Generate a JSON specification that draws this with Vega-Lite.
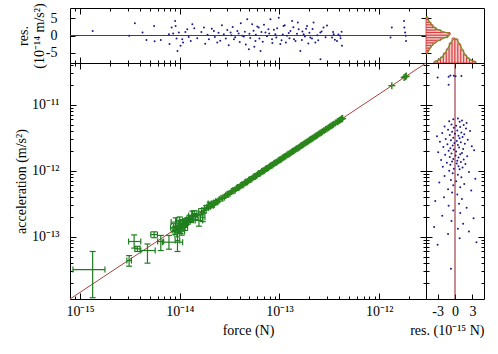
{
 "$schema": "https://vega.github.io/schema/vega-lite/v6.json",
 "padding": {"left": 13, "top": 2, "right": 5, "bottom": 5},
 "background": "white",
 "config": {
  "font": "Liberation Serif",
  "view": {"stroke": "#000000", "strokeWidth": 1},
  "axis": {"grid": false, "domain": false, "tickColor": "#000000", "tickWidth": 1, "labelColor": "#000000", "titleColor": "#000000", "labelFont": "Liberation Serif", "titleFont": "Liberation Serif", "labelFontSize": 14, "titleFontSize": 14, "titleFontWeight": "normal", "labelOverlap": false, "labelFlush": false, "labelBound": false}
 },
 "datasets": {
  "fit": [{"F": 0.794, "a": 1.147}, {"F": 2950, "a": 4263}],
  "zeroA": [{"r": 0, "Flo": 0.794, "Fhi": 2950}],
  "zeroF": [{"r": 0, "lo": 1.147, "hi": 4263}],
  "err": [
   {"F":1.34,"Flo":0.85,"Fhi":1.78,"a":3.2,"alo":1.2,"ahi":6.0},
   {"F":3.11,"Flo":2.95,"Fhi":3.28,"a":4.37,"alo":3.6,"ahi":5.2},
   {"F":3.49,"Flo":3.07,"Fhi":4.07,"a":8.5,"alo":6.75,"ahi":10.7},
   {"F":3.77,"Flo":3.55,"Fhi":4.0,"a":6.6,"alo":6.0,"ahi":7.2},
   {"F":4.75,"Flo":4.07,"Fhi":5.68,"a":6.2,"alo":4.0,"ahi":7.8},
   {"F":5.54,"Flo":5.13,"Fhi":5.98,"a":10.8,"alo":9.7,"ahi":11.9},
   {"F":6.46,"Flo":6.0,"Fhi":6.9,"a":8.5,"alo":6.2,"ahi":10.5},
   {"F":7.8,"Flo":6.7,"Fhi":10.7,"a":8.3,"alo":6.5,"ahi":10.5},
   {"F":9.5,"Flo":9.0,"Fhi":10.0,"a":8.8,"alo":6.0,"ahi":14.1},
   {"F":9.1,"Flo":8.2,"Fhi":10.1,"a":16.7,"alo":14.2,"ahi":19.4},
   {"F":9.0,"Flo":8.4,"Fhi":9.7,"a":12.5,"alo":10.8,"ahi":14.5},
   {"F":9.8,"Flo":9.1,"Fhi":10.6,"a":15.0,"alo":13.0,"ahi":17.5},
   {"F":10.2,"Flo":9.5,"Fhi":11.0,"a":13.2,"alo":11.3,"ahi":15.3},
   {"F":10.7,"Flo":10.0,"Fhi":11.5,"a":16.0,"alo":14.0,"ahi":18.2},
   {"F":11.3,"Flo":10.6,"Fhi":12.0,"a":14.2,"alo":12.5,"ahi":16.0},
   {"F":12.0,"Flo":11.2,"Fhi":12.8,"a":17.5,"alo":15.5,"ahi":19.6},
   {"F":12.6,"Flo":11.8,"Fhi":13.4,"a":19.0,"alo":17.0,"ahi":21.2},
   {"F":13.4,"Flo":12.3,"Fhi":14.6,"a":21.0,"alo":18.0,"ahi":24.5},
   {"F":14.3,"Flo":13.5,"Fhi":15.2,"a":20.0,"alo":18.2,"ahi":22.0},
   {"F":15.6,"Flo":14.3,"Fhi":17.0,"a":17.7,"alo":14.5,"ahi":21.5},
   {"F":16.5,"Flo":15.5,"Fhi":17.6,"a":24.0,"alo":21.5,"ahi":26.8},
   {"F":17.5,"Flo":16.6,"Fhi":18.4,"a":25.0,"alo":23.0,"ahi":27.2},
   {"F":18.5,"Flo":17.7,"Fhi":19.4,"a":27.5,"alo":25.5,"ahi":29.7},
   {"F":19.5,"Flo":18.8,"Fhi":20.3,"a":28.5,"alo":26.8,"ahi":30.3},
   {"F":20.5,"Flo":19.8,"Fhi":21.2,"a":30.5,"alo":29.0,"ahi":32.0},
   {"F":21.5,"Flo":20.8,"Fhi":22.2,"a":31.5,"alo":30.0,"ahi":33.0},
   {"F":22.5,"Flo":21.8,"Fhi":23.2,"a":33.0,"alo":31.6,"ahi":34.5},
   {"F":8.7,"Flo":8.1,"Fhi":9.3,"a":13.8,"alo":12.0,"ahi":15.8},
   {"F":9.4,"Flo":8.8,"Fhi":10.0,"a":11.5,"alo":10.0,"ahi":13.2},
   {"F":10.0,"Flo":9.3,"Fhi":10.7,"a":17.8,"alo":15.8,"ahi":20.0},
   {"F":10.5,"Flo":9.8,"Fhi":11.2,"a":12.2,"alo":10.6,"ahi":14.0},
   {"F":11.0,"Flo":10.3,"Fhi":11.7,"a":15.6,"alo":13.8,"ahi":17.6},
   {"F":11.6,"Flo":10.9,"Fhi":12.3,"a":16.8,"alo":15.0,"ahi":18.8},
   {"F":13.0,"Flo":12.2,"Fhi":13.8,"a":18.2,"alo":16.4,"ahi":20.2},
   {"F":14.0,"Flo":13.2,"Fhi":14.9,"a":22.5,"alo":20.4,"ahi":24.8},
   {"F":17.0,"Flo":16.2,"Fhi":17.9,"a":19.8,"alo":17.0,"ahi":22.8},
   {"F":20.0,"Flo":19.3,"Fhi":20.7,"a":31.8,"alo":30.3,"ahi":33.3},
   {"F":21.0,"Flo":20.3,"Fhi":21.7,"a":29.5,"alo":28.0,"ahi":31.0},
   {"F":23.5,"Flo":22.8,"Fhi":24.2,"a":34.0,"alo":32.6,"ahi":35.4}
  ],
  "pts": [
   {"F":20,"a":29.5},{"F":21.5,"a":30.5},{"F":23,"a":34.0},{"F":24,"a":33.9},{"F":26,"a":38.5},{"F":28,"a":39.8},{"F":30,"a":44.2},{"F":32,"a":45.5},{"F":34,"a":50.0},{"F":36,"a":51.2},{"F":38,"a":55.8},{"F":40,"a":57.0},{"F":42,"a":61.5},{"F":44,"a":62.8},{"F":46,"a":67.3},{"F":48,"a":68.6},{"F":50,"a":73.0},{"F":53,"a":75.8},{"F":56,"a":81.8},{"F":59,"a":84.5},{"F":62,"a":90.5},{"F":65,"a":93.0},{"F":68,"a":99.2},{"F":71,"a":101.8},{"F":74,"a":107.8},{"F":78,"a":111.9},{"F":82,"a":119.4},{"F":86,"a":123.4},{"F":90,"a":131.0},{"F":95,"a":136.4},{"F":100,"a":145.5},{"F":105,"a":150.8},{"F":110,"a":160.0},{"F":116,"a":166.7},{"F":122,"a":177.3},{"F":128,"a":184.0},{"F":135,"a":196.0},{"F":142,"a":204.2},{"F":150,"a":217.8},{"F":158,"a":227.3},{"F":166,"a":241.0},{"F":175,"a":251.8},{"F":185,"a":268.5},{"F":195,"a":280.6},{"F":205,"a":297.5},{"F":216,"a":311.0},{"F":228,"a":330.8},{"F":240,"a":345.6},{"F":255,"a":369.8},{"F":270,"a":389.0},{"F":290,"a":420.5},{"F":310,"a":446.6},{"F":330,"a":478.3},{"F":350,"a":504.5},{"F":380,"a":550.5},{"F":400,"a":576.6},{"F":420,"a":608.3},{"F":430,"a":620.0},{"F":1340,"a":1936},{"F":1780,"a":2572},{"F":1830,"a":2644},{"F":1870,"a":2702},
   {"F":21,"a":31.0},{"F":22,"a":31.2},{"F":25,"a":36.8},{"F":27,"a":38.3},{"F":29,"a":42.6},{"F":31,"a":44.0},{"F":33,"a":48.5},{"F":35,"a":49.8},{"F":37,"a":54.3},{"F":39,"a":55.6},{"F":41,"a":60.0},{"F":43,"a":61.4},{"F":45,"a":65.9},{"F":47,"a":67.1},{"F":49,"a":71.6},{"F":51.5,"a":73.6},{"F":54.5,"a":79.6},{"F":57.5,"a":82.3},{"F":60.5,"a":88.3},{"F":63.5,"a":90.9},{"F":66.5,"a":97.0},{"F":69.5,"a":99.6},{"F":72.5,"a":105.6},{"F":76,"a":109.0},{"F":80,"a":116.5},{"F":84,"a":120.6},{"F":88,"a":128.1},{"F":92.5,"a":132.8},{"F":97.5,"a":141.8},{"F":102.5,"a":147.2},{"F":107.5,"a":156.2},{"F":113,"a":162.4},{"F":119,"a":172.9},{"F":125,"a":179.7},{"F":131.5,"a":190.9},{"F":138.5,"a":199.2},{"F":146,"a":211.9},{"F":154,"a":221.6},{"F":162,"a":235.0},{"F":170.5,"a":245.5},{"F":180,"a":261.0},{"F":190,"a":273.7},{"F":200,"a":289.9},{"F":210.5,"a":303.3},{"F":222,"a":321.7},{"F":234,"a":337.2},{"F":247.5,"a":358.5},{"F":262.5,"a":378.4},{"F":280,"a":405.5},{"F":300,"a":432.6},{"F":320,"a":463.3},{"F":340,"a":490.4},{"F":365,"a":528.3},{"F":390,"a":562.7},{"F":410,"a":593.4},{"F":425,"a":613.2}
  ],
  "resA": [
   {"F":1.34,"r":1.3},{"F":3.11,"r":-0.1},{"F":3.55,"r":3.6},{"F":4.24,"r":0.9},{"F":4.64,"r":-1.3},{"F":5.54,"r":2.8},{"F":5.6,"r":-1.7},{"F":6.46,"r":-1.3},{"F":7.8,"r":0.4},{"F":7.9,"r":-2.5},{"F":8.3,"r":2.3},{"F":8.6,"r":0.6},{"F":9.0,"r":4.2},{"F":9.1,"r":2.8},{"F":9.3,"r":-0.9},{"F":9.5,"r":-4.5},{"F":9.8,"r":0.9},{"F":10.2,"r":-3.0},{"F":10.6,"r":-1.1},{"F":10.8,"r":-2.0},{"F":11.4,"r":1.0},{"F":11.9,"r":1.8},{"F":12.3,"r":-0.4},{"F":12.9,"r":-1.6},{"F":13.4,"r":3.3},{"F":14.0,"r":2.1},{"F":15,"r":-0.8},{"F":16.5,"r":1.0},{"F":17.5,"r":2.3},{"F":18,"r":-2.4},{"F":19,"r":0.2},{"F":19.6,"r":-1.1},{"F":21,"r":2.0},{"F":22,"r":1.3},{"F":22.5,"r":-0.4},{"F":23.8,"r":-2.0},{"F":24.5,"r":0.8},{"F":25.5,"r":-1.5},{"F":26.5,"r":3.0},{"F":27.7,"r":0.4},{"F":29,"r":-0.9},{"F":30,"r":1.6},{"F":31,"r":-2.8},{"F":32.4,"r":0.9},{"F":33,"r":0.1},{"F":34,"r":2.5},{"F":35,"r":-1.1},{"F":36,"r":-0.5},{"F":37.8,"r":1.3},{"F":39,"r":0.6},{"F":40,"r":-1.9},{"F":41,"r":3.6},{"F":42.4,"r":-0.1},{"F":44,"r":-0.3},{"F":45,"r":1.1},{"F":46,"r":-2.6},{"F":47.6,"r":4.7},{"F":49.4,"r":-4.0},{"F":50,"r":0.5},{"F":51,"r":-0.7},{"F":53.3,"r":3.3},{"F":55,"r":1.4},{"F":56,"r":-3.3},{"F":57.5,"r":-1.6},{"F":58,"r":0.2},{"F":60,"r":2.6},{"F":62,"r":2.3},{"F":63,"r":-0.9},{"F":64.6,"r":-4.5},{"F":66,"r":1.0},{"F":68,"r":-1.8},{"F":70,"r":3.1},{"F":72.4,"r":0.9},{"F":75,"r":-0.2},{"F":77.6,"r":1.8},{"F":79,"r":0.6},{"F":81.3,"r":4.7},{"F":84.3,"r":-1.1},{"F":85,"r":-2.2},{"F":88,"r":1.7},{"F":91,"r":0.4},{"F":93,"r":-0.6},{"F":95,"r":2.1},{"F":98.5,"r":5.2},{"F":102,"r":-2.5},{"F":105,"r":-1.4},{"F":108,"r":0.3},{"F":110,"r":2.8},{"F":113,"r":3.0},{"F":116,"r":-2.0},{"F":119,"r":-0.1},{"F":124,"r":0.7},{"F":126,"r":-0.8},{"F":129,"r":1.3},{"F":134,"r":4.2},{"F":138,"r":2.4},{"F":140,"r":-1.1},{"F":145,"r":-1.6},{"F":150,"r":0.5},{"F":153,"r":3.8},{"F":156,"r":1.8},{"F":162,"r":-4.5},{"F":168,"r":-1.3},{"F":170,"r":1.2},{"F":175,"r":0.4},{"F":180,"r":-0.3},{"F":185,"r":2.0},{"F":189,"r":2.8},{"F":195,"r":-2.3},{"F":200,"r":0.8},{"F":204,"r":-0.6},{"F":212,"r":-0.9},{"F":215,"r":1.9},{"F":220,"r":3.8},{"F":229,"r":-2.0},{"F":240,"r":0.1},{"F":245,"r":-1.4},{"F":257,"r":0.9},{"F":258,"r":-6.9},{"F":265,"r":1.2},{"F":277,"r":2.3},{"F":290,"r":-0.5},{"F":300,"r":2.9},{"F":337,"r":-0.6},{"F":345,"r":1.0},{"F":350,"r":0.4},{"F":360,"r":-1.2},{"F":378,"r":-1.6},{"F":390,"r":0.3},{"F":407,"r":-0.1},{"F":410,"r":-0.8},{"F":420,"r":1.1},{"F":424,"r":-3.0},{"F":1300,"r":-0.6},{"F":1340,"r":2.3},{"F":1778,"r":4.2},{"F":1790,"r":2.3},{"F":1820,"r":0.9},{"F":1850,"r":-0.1},{"F":1860,"r":-1.6}
  ],
  "resF": [
   {"a":2570,"r":-3.0},{"a":2630,"r":-1.1},{"a":2750,"r":-0.8},{"a":2740,"r":-0.2},{"a":2690,"r":0.1},{"a":2720,"r":1.1},{"a":2000,"r":-1.1},
   {"a":617,"r":0.5},{"a":603,"r":-0.3},{"a":575,"r":1.2},{"a":562,"r":-1.0},{"a":550,"r":0.8},{"a":525,"r":2.0},{"a":501,"r":-0.6},{"a":490,"r":1.5},{"a":479,"r":0.2},{"a":468,"r":-1.8},{"a":457,"r":0.9},{"a":447,"r":-0.2},{"a":437,"r":1.9},{"a":417,"r":-1.2},{"a":407,"r":0.4},{"a":398,"r":2.6},{"a":389,"r":-0.5},{"a":380,"r":1.1},{"a":372,"r":-2.2},{"a":363,"r":0.0},{"a":355,"r":1.6},{"a":347,"r":-0.9},{"a":339,"r":0.6},{"a":331,"r":-3.1},{"a":324,"r":1.3},{"a":316,"r":-0.3},{"a":309,"r":0.8},{"a":302,"r":-1.6},{"a":295,"r":2.2},{"a":288,"r":-0.7},{"a":282,"r":0.3},{"a":275,"r":-2.6},{"a":269,"r":1.0},{"a":263,"r":-0.1},{"a":257,"r":1.7},{"a":251,"r":-1.3},{"a":245,"r":0.5},{"a":240,"r":-0.4},{"a":234,"r":2.9},{"a":229,"r":-2.0},{"a":224,"r":0.7},{"a":219,"r":-0.8},{"a":214,"r":1.4},{"a":209,"r":-0.2},{"a":204,"r":3.3},{"a":200,"r":-1.1},{"a":195,"r":0.2},{"a":191,"r":-2.9},{"a":186,"r":1.2},{"a":182,"r":-0.6},{"a":178,"r":0.9},{"a":174,"r":-1.7},{"a":170,"r":0.1},{"a":166,"r":2.1},{"a":162,"r":-0.9},{"a":158,"r":0.6},{"a":151,"r":-0.3},{"a":148,"r":1.5},{"a":145,"r":-2.4},{"a":141,"r":0.4},{"a":138,"r":-0.5},{"a":135,"r":1.0},{"a":132,"r":-1.4},{"a":129,"r":0.3},{"a":126,"r":1.8},{"a":123,"r":-0.8},{"a":117,"r":0.6},{"a":115,"r":-2.1},{"a":112,"r":1.3},{"a":107,"r":-0.2},{"a":105,"r":0.8},{"a":100,"r":-1.0},{"a":95.5,"r":2.4},{"a":91.2,"r":-0.4},{"a":87.1,"r":0.5},{"a":83.2,"r":-1.8},{"a":79.4,"r":1.1},{"a":75.9,"r":3.5},{"a":72.4,"r":-0.7},{"a":69.2,"r":0.2},{"a":66.1,"r":-2.7},{"a":63.1,"r":1.6},{"a":60.3,"r":-0.3},{"a":56.2,"r":0.9},{"a":52.5,"r":-1.2},{"a":50.1,"r":2.8},{"a":46.8,"r":-0.5},{"a":43.7,"r":0.4},{"a":39.8,"r":-1.9},{"a":37.2,"r":1.2},{"a":34.7,"r":-3.4},{"a":31.6,"r":0.7},{"a":29.5,"r":-1.1},{"a":27.5,"r":2.0},{"a":25.1,"r":-0.3},{"a":22.9,"r":0.9},{"a":20.9,"r":-2.2},{"a":19.1,"r":3.2},{"a":17.4,"r":-0.6},{"a":15.8,"r":1.4},{"a":14.1,"r":-3.6},{"a":13.2,"r":0.5},{"a":12.0,"r":2.4},{"a":11.0,"r":-1.2},{"a":9.5,"r":0.8},{"a":8.3,"r":3.7},{"a":7.6,"r":-3.0},{"a":3.3,"r":-0.7}
  ],
  "hA": [
   {"lo":-5.125,"hi":-4.375,"n":4},{"lo":-4.375,"hi":-3.625,"n":6},{"lo":-3.625,"hi":-2.875,"n":10},{"lo":-2.875,"hi":-2.125,"n":14},{"lo":-2.125,"hi":-1.375,"n":20},{"lo":-1.375,"hi":-0.625,"n":30},{"lo":-0.625,"hi":0.125,"n":44},{"lo":0.125,"hi":0.875,"n":48},{"lo":0.875,"hi":1.625,"n":30},{"lo":1.625,"hi":2.375,"n":20},{"lo":2.375,"hi":3.125,"n":14},{"lo":3.125,"hi":3.875,"n":10},{"lo":3.875,"hi":4.625,"n":6},{"lo":4.625,"hi":5.375,"n":4}
  ],
  "gA": [
   {"r":-5.5,"n":1},{"r":-4.75,"n":4},{"r":-4.0,"n":7},{"r":-3.25,"n":10},{"r":-2.5,"n":15},{"r":-1.75,"n":22},{"r":-1.0,"n":32},{"r":-0.25,"n":44},{"r":0.5,"n":48},{"r":1.25,"n":32},{"r":2.0,"n":20},{"r":2.75,"n":13},{"r":3.5,"n":9},{"r":4.25,"n":5},{"r":5.0,"n":3},{"r":5.6,"n":1}
  ],
  "hB": [
   {"lo":-3.5,"hi":-3.0,"n":4},{"lo":-3.0,"hi":-2.5,"n":6},{"lo":-2.5,"hi":-2.0,"n":12},{"lo":-2.0,"hi":-1.5,"n":20},{"lo":-1.5,"hi":-1.0,"n":28},{"lo":-1.0,"hi":-0.5,"n":40},{"lo":-0.5,"hi":0.0,"n":50},{"lo":0.0,"hi":0.5,"n":48},{"lo":0.5,"hi":1.0,"n":38},{"lo":1.0,"hi":1.5,"n":26},{"lo":1.5,"hi":2.0,"n":16},{"lo":2.0,"hi":2.5,"n":10},{"lo":2.5,"hi":3.0,"n":6},{"lo":3.0,"hi":3.5,"n":4}
  ],
  "gB": [
   {"r":-3.75,"n":1},{"r":-3.25,"n":4},{"r":-2.75,"n":7},{"r":-2.25,"n":12},{"r":-1.75,"n":19},{"r":-1.25,"n":29},{"r":-0.75,"n":40},{"r":-0.25,"n":48},{"r":0.25,"n":48},{"r":0.75,"n":39},{"r":1.25,"n":27},{"r":1.75,"n":17},{"r":2.25,"n":10},{"r":2.75,"n":6},{"r":3.25,"n":3},{"r":3.75,"n":1}
  ]
 },
 "columns": 2,
 "spacing": 0,
 "bounds": "flush",
 "align": "each",
 "concat": [
  {
   "width": 356, "height": 55,
   "layer": [
    {"data": {"name": "zeroA"}, "mark": {"type": "rule", "color": "#9a1c1c", "strokeWidth": 1},
     "encoding": {
      "x": {"field": "Flo", "type": "quantitative", "scale": {"type": "log", "domain": [0.794, 2950], "nice": false}, "axis": {"orient": "bottom", "values": [0.9,1,2,3,4,5,6,7,8,9,10,20,30,40,50,60,70,80,90,100,200,300,400,500,600,700,800,900,1000,2000], "labels": false, "title": null, "tickSize": {"condition": {"test": "datum.value==1||datum.value==10||datum.value==100||datum.value==1000", "value": -6}, "value": -3}}},
      "x2": {"field": "Fhi"},
      "y": {"field": "r", "type": "quantitative", "scale": {"domain": [-8, 8], "nice": false, "zero": false}, "axis": {"orient": "left", "values": [-5, 0, 5], "tickSize": -5, "labelPadding": 18, "labelExpr": "''+datum.value", "title": ["res.", "(10⁻¹⁴ m/s²)"], "titleX": -47, "titleY": 27.5, "titleAngle": 270, "titleAlign": "center", "titleBaseline": "middle"}}
     }},
    {"data": {"name": "resA"}, "mark": {"type": "circle", "size": 4, "color": "#1c1c8a", "opacity": 1},
     "encoding": {
      "x": {"field": "F", "type": "quantitative", "scale": {"type": "log", "domain": [0.794, 2950], "nice": false}, "axis": {"orient": "top", "values": [0.9,1,2,3,4,5,6,7,8,9,10,20,30,40,50,60,70,80,90,100,200,300,400,500,600,700,800,900,1000,2000], "labels": false, "title": null, "tickSize": {"condition": {"test": "datum.value==1||datum.value==10||datum.value==100||datum.value==1000", "value": -6}, "value": -3}}},
      "y": {"field": "r", "type": "quantitative", "scale": {"domain": [-8, 8], "nice": false, "zero": false}, "axis": {"orient": "right", "values": [-5, 0, 5], "labels": false, "title": null, "tickSize": -5}}
     }}
   ],
   "resolve": {"axis": {"x": "independent", "y": "independent"}}
  },
  {
   "width": 58, "height": 55,
   "layer": [
    {"data": {"name": "hA"}, "mark": {"type": "rect", "fill": "#f7c8c8", "stroke": "#d42a2a", "strokeWidth": 0.8},
     "encoding": {
      "x": {"field": "n", "type": "quantitative", "scale": {"domain": [0, 116], "nice": false, "zero": false}, "axis": null},
      "x2": {"datum": 0},
      "y": {"field": "lo", "type": "quantitative", "scale": {"domain": [-8, 8], "nice": false, "zero": false}, "axis": {"orient": "left", "values": [-5, 0, 5], "labels": false, "title": null, "tickSize": -5}},
      "y2": {"field": "hi"}
     }},
    {"data": {"name": "gA"}, "mark": {"type": "line", "color": "#6f8f1f", "strokeWidth": 1.2},
     "encoding": {
      "x": {"field": "n", "type": "quantitative", "scale": {"domain": [0, 116], "nice": false, "zero": false}, "axis": null},
      "y": {"field": "r", "type": "quantitative", "scale": {"domain": [-8, 8], "nice": false, "zero": false}, "axis": null},
      "order": {"field": "r", "type": "quantitative"}
     }},
    {"data": {"name": "hB"}, "mark": {"type": "rect", "fill": "#f7c8c8", "stroke": "#d42a2a", "strokeWidth": 0.8},
     "encoding": {
      "x": {"field": "lo", "type": "quantitative", "scale": {"domain": [-5, 5], "nice": false, "zero": false}, "axis": {"orient": "bottom", "values": [-3, 0, 3], "labels": false, "title": null, "tickSize": -5}},
      "x2": {"field": "hi"},
      "y": {"field": "n", "type": "quantitative", "scale": {"domain": [0, 110], "nice": false, "zero": false}, "axis": null},
      "y2": {"datum": 0}
     }},
    {"data": {"name": "gB"}, "mark": {"type": "line", "color": "#6f8f1f", "strokeWidth": 1.2},
     "encoding": {
      "x": {"field": "r", "type": "quantitative", "scale": {"domain": [-5, 5], "nice": false, "zero": false}, "axis": null},
      "y": {"field": "n", "type": "quantitative", "scale": {"domain": [0, 110], "nice": false, "zero": false}, "axis": null}
     }}
   ],
   "resolve": {"scale": {"x": "independent", "y": "independent"}, "axis": {"x": "independent", "y": "independent"}}
  },
  {
   "width": 356, "height": 236,
   "layer": [
    {"data": {"name": "fit"}, "mark": {"type": "line", "color": "#a8443c", "strokeWidth": 1},
     "encoding": {
      "x": {"field": "F", "type": "quantitative", "scale": {"type": "log", "domain": [0.794, 2950], "nice": false}, "axis": {"orient": "bottom", "values": [0.9,1,2,3,4,5,6,7,8,9,10,20,30,40,50,60,70,80,90,100,200,300,400,500,600,700,800,900,1000,2000], "labelExpr": "datum.value==1?'10⁻¹⁵':datum.value==10?'10⁻¹⁴':datum.value==100?'10⁻¹³':datum.value==1000?'10⁻¹²':''", "labelPadding": 11, "title": "force (N)", "titleX": 178, "titleY": 31, "titleBaseline": "middle", "titleAlign": "center", "tickSize": {"condition": {"test": "datum.value==1||datum.value==10||datum.value==100||datum.value==1000", "value": -6}, "value": -3}}},
      "y": {"field": "a", "type": "quantitative", "scale": {"type": "log", "domain": [1.147, 4263], "nice": false}, "axis": {"orient": "left", "values": [2,3,4,5,6,7,8,9,10,20,30,40,50,60,70,80,90,100,200,300,400,500,600,700,800,900,1000,2000,3000,4000], "labelExpr": "datum.value==10?'10⁻¹³':datum.value==100?'10⁻¹²':datum.value==1000?'10⁻¹¹':''", "labelPadding": 17, "title": "acceleration (m/s²)", "titleX": -49, "titleY": 118, "titleAngle": 270, "titleAlign": "center", "titleBaseline": "middle", "tickSize": {"condition": {"test": "datum.value==10||datum.value==100||datum.value==1000", "value": -6}, "value": -3}}}
     }},
    {"data": {"name": "err"}, "mark": {"type": "rule", "color": "#1e7e1e", "strokeWidth": 1.2},
     "encoding": {
      "x": {"field": "Flo", "type": "quantitative", "scale": {"type": "log", "domain": [0.794, 2950], "nice": false}, "axis": {"orient": "top", "values": [0.9,1,2,3,4,5,6,7,8,9,10,20,30,40,50,60,70,80,90,100,200,300,400,500,600,700,800,900,1000,2000], "labels": false, "title": null, "tickSize": {"condition": {"test": "datum.value==1||datum.value==10||datum.value==100||datum.value==1000", "value": -6}, "value": -3}}},
      "x2": {"field": "Fhi"},
      "y": {"field": "a", "type": "quantitative", "scale": {"type": "log", "domain": [1.147, 4263], "nice": false}, "axis": {"orient": "right", "values": [2,3,4,5,6,7,8,9,10,20,30,40,50,60,70,80,90,100,200,300,400,500,600,700,800,900,1000,2000,3000,4000], "labels": false, "title": null, "tickSize": {"condition": {"test": "datum.value==10||datum.value==100||datum.value==1000", "value": -6}, "value": -3}}}
     }},
    {"data": {"name": "err"}, "mark": {"type": "rule", "color": "#1e7e1e", "strokeWidth": 1.2},
     "encoding": {
      "x": {"field": "F", "type": "quantitative", "scale": {"type": "log", "domain": [0.794, 2950], "nice": false}, "axis": null},
      "y": {"field": "alo", "type": "quantitative", "scale": {"type": "log", "domain": [1.147, 4263], "nice": false}, "axis": null},
      "y2": {"field": "ahi"}
     }},
    {"data": {"name": "err"}, "mark": {"type": "tick", "orient": "vertical", "size": 6, "thickness": 1.2, "color": "#1e7e1e", "opacity": 1},
     "encoding": {
      "x": {"field": "Flo", "type": "quantitative", "scale": {"type": "log", "domain": [0.794, 2950], "nice": false}, "axis": null},
      "y": {"field": "a", "type": "quantitative", "scale": {"type": "log", "domain": [1.147, 4263], "nice": false}, "axis": null}
     }},
    {"data": {"name": "err"}, "mark": {"type": "tick", "orient": "vertical", "size": 6, "thickness": 1.2, "color": "#1e7e1e", "opacity": 1},
     "encoding": {
      "x": {"field": "Fhi", "type": "quantitative", "scale": {"type": "log", "domain": [0.794, 2950], "nice": false}, "axis": null},
      "y": {"field": "a", "type": "quantitative", "scale": {"type": "log", "domain": [1.147, 4263], "nice": false}, "axis": null}
     }},
    {"data": {"name": "err"}, "mark": {"type": "tick", "orient": "horizontal", "size": 6, "thickness": 1.2, "color": "#1e7e1e", "opacity": 1},
     "encoding": {
      "x": {"field": "F", "type": "quantitative", "scale": {"type": "log", "domain": [0.794, 2950], "nice": false}, "axis": null},
      "y": {"field": "alo", "type": "quantitative", "scale": {"type": "log", "domain": [1.147, 4263], "nice": false}, "axis": null}
     }},
    {"data": {"name": "err"}, "mark": {"type": "tick", "orient": "horizontal", "size": 6, "thickness": 1.2, "color": "#1e7e1e", "opacity": 1},
     "encoding": {
      "x": {"field": "F", "type": "quantitative", "scale": {"type": "log", "domain": [0.794, 2950], "nice": false}, "axis": null},
      "y": {"field": "ahi", "type": "quantitative", "scale": {"type": "log", "domain": [1.147, 4263], "nice": false}, "axis": null}
     }},
    {"data": {"name": "pts"}, "mark": {"type": "tick", "orient": "vertical", "size": 7, "thickness": 1.4, "color": "#2a861a", "opacity": 1},
     "encoding": {
      "x": {"field": "F", "type": "quantitative", "scale": {"type": "log", "domain": [0.794, 2950], "nice": false}, "axis": null},
      "y": {"field": "a", "type": "quantitative", "scale": {"type": "log", "domain": [1.147, 4263], "nice": false}, "axis": null}
     }},
    {"data": {"name": "pts"}, "mark": {"type": "tick", "orient": "horizontal", "size": 7, "thickness": 1.4, "color": "#2a861a", "opacity": 1},
     "encoding": {
      "x": {"field": "F", "type": "quantitative", "scale": {"type": "log", "domain": [0.794, 2950], "nice": false}, "axis": null},
      "y": {"field": "a", "type": "quantitative", "scale": {"type": "log", "domain": [1.147, 4263], "nice": false}, "axis": null}
     }}
   ],
   "resolve": {"axis": {"x": "independent", "y": "independent"}}
  },
  {
   "width": 58, "height": 236,
   "layer": [
    {"data": {"name": "zeroF"}, "mark": {"type": "rule", "color": "#8e1a2a", "strokeWidth": 1},
     "encoding": {
      "x": {"field": "r", "type": "quantitative", "scale": {"domain": [-5, 5], "nice": false, "zero": false}, "axis": {"orient": "top", "values": [-3, 0, 3], "labels": false, "title": null, "tickSize": -5}},
      "y": {"field": "lo", "type": "quantitative", "scale": {"type": "log", "domain": [1.147, 4263], "nice": false}, "axis": {"orient": "right", "values": [2,3,4,5,6,7,8,9,10,20,30,40,50,60,70,80,90,100,200,300,400,500,600,700,800,900,1000,2000,3000,4000], "labels": false, "title": null, "tickSize": {"condition": {"test": "datum.value==10||datum.value==100||datum.value==1000", "value": -6}, "value": -3}}},
      "y2": {"field": "hi"}
     }},
    {"data": {"name": "resF"}, "mark": {"type": "circle", "size": 4, "color": "#1c1c8a", "opacity": 1},
     "encoding": {
      "x": {"field": "r", "type": "quantitative", "scale": {"domain": [-5, 5], "nice": false, "zero": false}, "axis": {"orient": "bottom", "values": [-3, 0, 3], "labelExpr": "''+datum.value", "labelPadding": 10, "tickSize": -5, "title": "res. (10⁻¹⁵ N)", "titleAnchor": "end", "titleY": 31, "titleBaseline": "middle"}},
      "y": {"field": "a", "type": "quantitative", "scale": {"type": "log", "domain": [1.147, 4263], "nice": false}, "axis": {"orient": "left", "values": [2,3,4,5,6,7,8,9,10,20,30,40,50,60,70,80,90,100,200,300,400,500,600,700,800,900,1000,2000,3000,4000], "labels": false, "title": null, "tickSize": {"condition": {"test": "datum.value==10||datum.value==100||datum.value==1000", "value": -6}, "value": -3}}}
     }}
   ],
   "resolve": {"axis": {"x": "independent", "y": "independent"}}
  }
 ]
}
